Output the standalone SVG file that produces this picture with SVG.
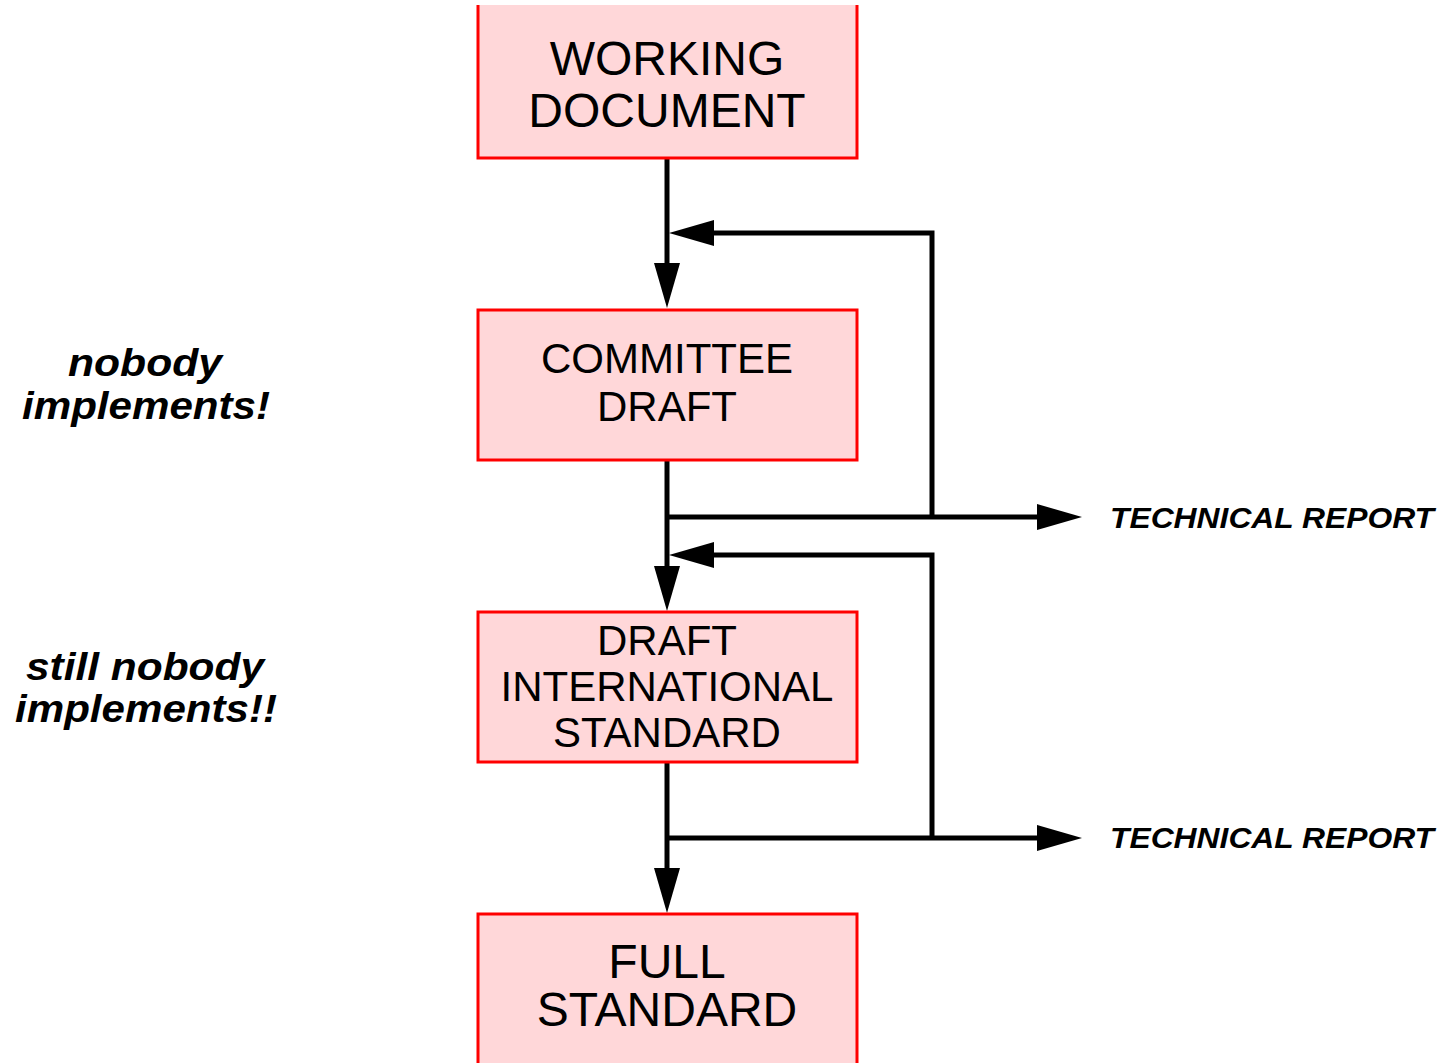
<svg xmlns="http://www.w3.org/2000/svg" width="1445" height="1063" viewBox="0 0 1445 1063">
<style>
.box{fill:#ffd7d9;stroke:none}
.edge{fill:none;stroke:#ff0000;stroke-width:3}
.lbl{font-family:"Liberation Sans",Arial,Helvetica,sans-serif;fill:#000;text-anchor:middle}
.big{font-size:48px}
.mid{font-size:42px}
.note{font-family:"Liberation Sans",Arial,Helvetica,sans-serif;font-weight:bold;font-style:italic;fill:#000}
.conn{fill:none;stroke:#000;stroke-width:5}
</style>
<defs>
<marker id="ah" markerUnits="userSpaceOnUse" markerWidth="46" markerHeight="27" refX="0" refY="13" orient="auto" viewBox="0 0 46 26">
<path d="M0,0 L45,13 L0,26 z" fill="#000"/>
</marker>
</defs>
<g id="connectors">
<path class="conn" d="M667,158 V263" marker-end="url(#ah)"/>
<path class="conn" d="M932,517 V233 H714" marker-end="url(#ah)"/>
<path class="conn" d="M667,460 V566" marker-end="url(#ah)"/>
<path class="conn" d="M667,517 H1037" marker-end="url(#ah)"/>
<path class="conn" d="M932,838 V555 H714" marker-end="url(#ah)"/>
<path class="conn" d="M667,762 V868" marker-end="url(#ah)"/>
<path class="conn" d="M667,838 H1037" marker-end="url(#ah)"/>
</g>
<g id="working-document">
<rect class="box" x="478" y="5" width="379" height="153"/>
<path class="edge" d="M478,5 V158 H857 V5"/>
<text class="lbl big" x="667" y="75">WORKING</text>
<text class="lbl big" x="667" y="127">DOCUMENT</text>
</g>
<g id="committee-draft">
<rect class="box edge" x="478" y="310" width="379" height="150" style="fill:#ffd7d9"/>
<text class="lbl mid" x="667" y="373">COMMITTEE</text>
<text class="lbl mid" x="667" y="421">DRAFT</text>
</g>
<g id="draft-international-standard">
<rect class="box edge" x="478" y="612" width="379" height="150" style="fill:#ffd7d9"/>
<text class="lbl mid" x="667" y="655">DRAFT</text>
<text class="lbl mid" x="667" y="701">INTERNATIONAL</text>
<text class="lbl mid" x="667" y="747">STANDARD</text>
</g>
<g id="full-standard">
<rect class="box" x="478" y="914" width="379" height="149"/>
<path class="edge" d="M478,1063 V914 H857 V1063"/>
<text class="lbl big" x="667" y="978">FULL</text>
<text class="lbl big" x="667" y="1026">STANDARD</text>
</g>
<g id="note-1">
<text class="note" x="68" y="376" font-size="38" textLength="154" lengthAdjust="spacingAndGlyphs">nobody</text>
<text class="note" x="22" y="419" font-size="38" textLength="248" lengthAdjust="spacingAndGlyphs">implements!</text>
</g>
<g id="note-2">
<text class="note" x="26" y="680" font-size="38" textLength="238" lengthAdjust="spacingAndGlyphs">still nobody</text>
<text class="note" x="15" y="722" font-size="38" textLength="262" lengthAdjust="spacingAndGlyphs">implements!!</text>
</g>
<g id="tr-1">
<text class="note" x="1110" y="528" font-size="29" textLength="324" lengthAdjust="spacingAndGlyphs">TECHNICAL REPORT</text>
</g>
<g id="tr-2">
<text class="note" x="1110" y="848" font-size="29" textLength="324" lengthAdjust="spacingAndGlyphs">TECHNICAL REPORT</text>
</g>
</svg>
